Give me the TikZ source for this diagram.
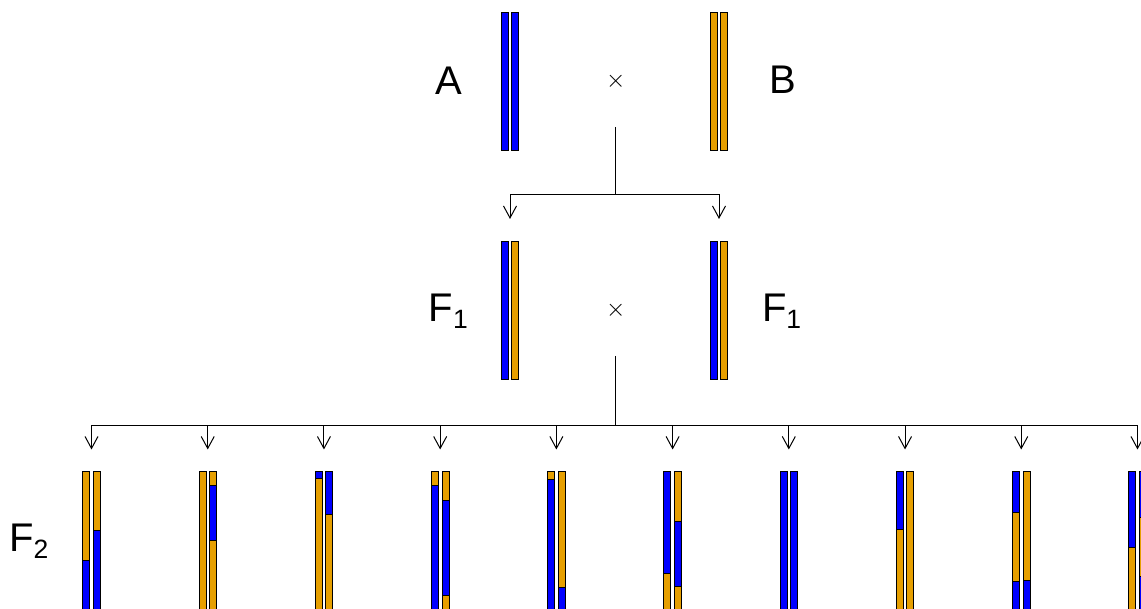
\documentclass[tikz,border=0pt]{standalone}
\usepackage{fontspec}
\setmainfont{Liberation Sans}
\usetikzlibrary{arrows.meta}
\definecolor{chrblue}{HTML}{0000FF}
\definecolor{chrorange}{HTML}{E69F00}
\tikzset{
  chrseg/.style={draw=black, line width=0.8pt},
  conn/.style={draw=black, line width=1pt},
  arr/.style={conn, -{Straight Barb[length=12pt,width=13pt]}},
  lbl/.style={anchor=base west, inner sep=0pt, font=\fontsize{40}{48}\selectfont},
  crosssym/.style={inner sep=0pt, font=\fontsize{34}{40}\selectfont},
}
% left / right chromosome segment of a pair centred at #1, from y #2 to #3, colour #4
\newcommand{\segL}[4]{\path[chrseg, fill=#4] ({#1-8.8},{#2}) rectangle ({#1-1.8},{#3});}
\newcommand{\segR}[4]{\path[chrseg, fill=#4] ({#1+1.8},{#2}) rectangle ({#1+8.8},{#3});}
\newcommand{\sub}[1]{\raisebox{-6.6pt}{\fontsize{26.5}{30}\selectfont #1}}
\begin{document}
\begin{tikzpicture}[x=1pt, y=-1pt]
\useasboundingbox (0,0) rectangle (1141,609);
\clip (0,0) rectangle (1141,609);

% ---------- parents ----------
\segL{510}{12}{150}{chrblue}   \segR{510}{12}{150}{chrblue}
\segL{719}{12}{150}{chrorange} \segR{719}{12}{150}{chrorange}
\node[lbl] (labA) at (435.5,95) {A};
\node[lbl] (labB) at (769.5,94) {B};
\node[crosssym] (cross1) at (615.7,81) {$\times$};

% ---------- F1 ----------
\segL{510}{241}{379}{chrblue} \segR{510}{241}{379}{chrorange}
\segL{719}{241}{379}{chrblue} \segR{719}{241}{379}{chrorange}
\node[lbl] (labF1a) at (428.5,321.7) {F\sub{1}};
\node[lbl] (labF1b) at (761.8,321.7) {F\sub{1}};
\node[crosssym] (cross2) at (615.7,310.7) {$\times$};

% ---------- connectors 1 ----------
\coordinate (s1) at (615.7,127);
\coordinate (j1) at (615.7,195);
\coordinate (tA) at (510,219);
\coordinate (tB) at (719,219);
\draw[conn] (s1) -- (j1);
\draw[arr] (j1) -| (tA);
\draw[arr] (j1) -| (tB);

% ---------- connectors 2 ----------
\coordinate (s2) at (615.7,356);
\coordinate (j2) at (615.7,426);
\draw[conn] (s2) -- (j2);
\foreach \i/\x in {1/91.5,2/207.72,3/323.94,4/440.16,5/556.38,6/672.6,7/788.82,8/905.04,9/1021.26,10/1137.48}{
  \coordinate (t\i) at (\x,449.5);
  \draw[arr] (j2) -| (t\i);
}

% ---------- F2 ----------
\node[lbl] (labF2) at (9.1,551.7) {F\sub{2}};
% 1
\segL{91.5}{471}{560}{chrorange} \segL{91.5}{560}{609}{chrblue}
\segR{91.5}{471}{530}{chrorange} \segR{91.5}{530}{609}{chrblue}
% 2
\segL{207.72}{471}{609}{chrorange}
\segR{207.72}{471}{485}{chrorange} \segR{207.72}{485}{540}{chrblue} \segR{207.72}{540}{609}{chrorange}
% 3
\segL{323.94}{471}{478}{chrblue} \segL{323.94}{478}{609}{chrorange}
\segR{323.94}{471}{514}{chrblue} \segR{323.94}{514}{609}{chrorange}
% 4
\segL{440.16}{471}{485}{chrorange} \segL{440.16}{485}{609}{chrblue}
\segR{440.16}{471}{500}{chrorange} \segR{440.16}{500}{595}{chrblue} \segR{440.16}{595}{609}{chrorange}
% 5
\segL{556.38}{471}{479}{chrorange} \segL{556.38}{479}{609}{chrblue}
\segR{556.38}{471}{587}{chrorange} \segR{556.38}{587}{609}{chrblue}
% 6
\segL{672.6}{471}{573}{chrblue} \segL{672.6}{573}{609}{chrorange}
\segR{672.6}{471}{521}{chrorange} \segR{672.6}{521}{586}{chrblue} \segR{672.6}{586}{609}{chrorange}
% 7
\segL{788.82}{471}{609}{chrblue}
\segR{788.82}{471}{609}{chrblue}
% 8
\segL{905.04}{471}{529}{chrblue} \segL{905.04}{529}{609}{chrorange}
\segR{905.04}{471}{609}{chrorange}
% 9
\segL{1021.26}{471}{512}{chrblue} \segL{1021.26}{512}{581}{chrorange} \segL{1021.26}{581}{609}{chrblue}
\segR{1021.26}{471}{580}{chrorange} \segR{1021.26}{580}{609}{chrblue}
% 10
\segL{1137.48}{471}{547}{chrblue} \segL{1137.48}{547}{609}{chrorange}
\segR{1137.48}{471}{517}{chrblue} \segR{1137.48}{517}{576}{chrorange} \segR{1137.48}{576}{609}{chrblue}
\end{tikzpicture}
\end{document}
